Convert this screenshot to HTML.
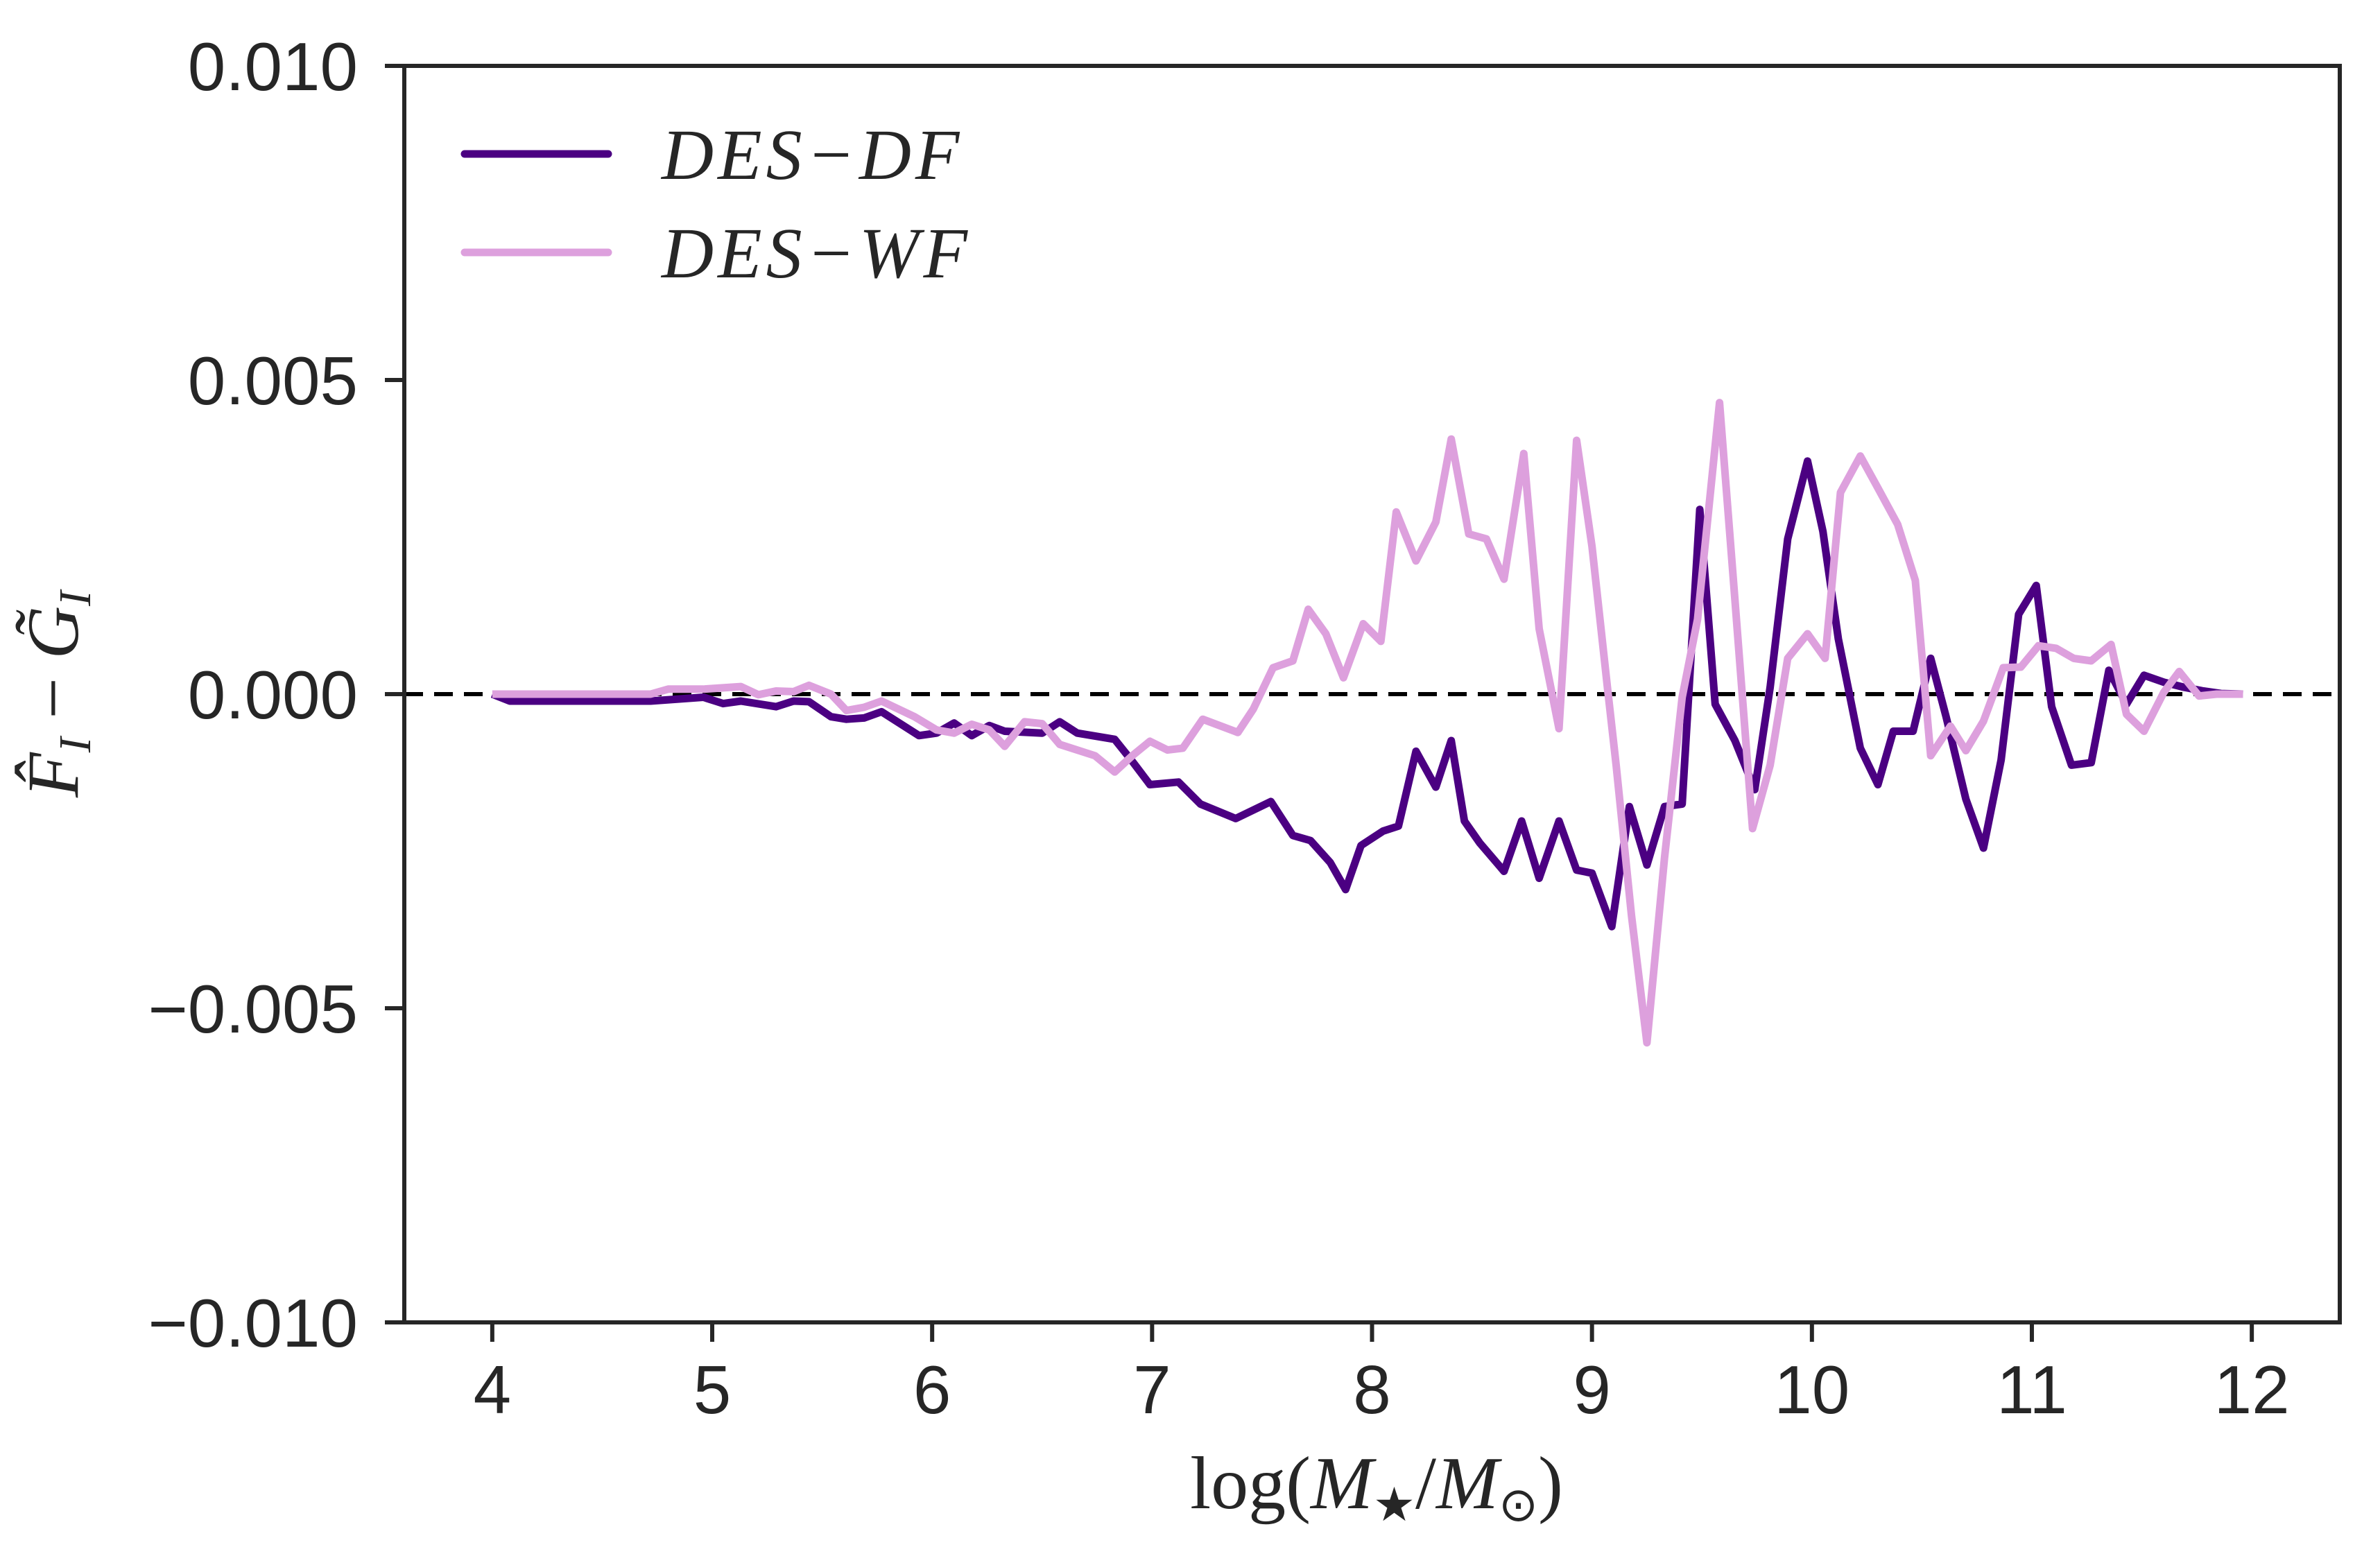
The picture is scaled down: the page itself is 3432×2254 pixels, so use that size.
<!DOCTYPE html>
<html><head><meta charset="utf-8"><style>
html,body{margin:0;padding:0;background:#fff;}
svg{display:block;}
</style></head><body>
<svg id="chart" width="3432" height="2254" viewBox="0 0 3432 2254" xmlns="http://www.w3.org/2000/svg">
<rect x="0" y="0" width="3432" height="2254" fill="#fff"/>
<g id="plot"></g>
<g id="axes"></g>
</svg>
<script>
const xTicks = [4,5,6,7,8,9,10,11,12];
const yTicks = [-0.010,-0.005,0.000,0.005,0.010];
const yTickLabels = ["\u22120.010","\u22120.005","0.000","0.005","0.010"];
const dfX = [4.0,4.08,4.72,4.96,5.05,5.13,5.29,5.37,5.44,5.54,5.61,5.69,5.77,5.94,6.02,6.10,6.18,6.26,6.33,6.50,6.58,6.66,6.83,6.91,6.99,7.12,7.22,7.38,7.54,7.64,7.72,7.81,7.88,7.95,8.05,8.12,8.20,8.29,8.36,8.42,8.49,8.60,8.68,8.76,8.85,8.93,9.00,9.09,9.17,9.25,9.33,9.41,9.49,9.56,9.65,9.74,9.81,9.89,9.98,10.05,10.12,10.22,10.30,10.37,10.46,10.54,10.61,10.70,10.78,10.86,10.94,11.02,11.09,11.18,11.27,11.35,11.43,11.51,11.60,11.69,11.78,11.86,11.96];
const dfY = [0,-0.11,-0.11,-0.05,-0.15,-0.11,-0.20,-0.11,-0.12,-0.36,-0.40,-0.38,-0.28,-0.66,-0.62,-0.46,-0.66,-0.50,-0.59,-0.62,-0.44,-0.62,-0.72,-1.07,-1.44,-1.40,-1.75,-1.98,-1.71,-2.25,-2.33,-2.68,-3.11,-2.41,-2.18,-2.10,-0.91,-1.48,-0.74,-2.02,-2.37,-2.82,-2.02,-2.93,-2.02,-2.80,-2.85,-3.70,-1.79,-2.72,-1.79,-1.75,2.94,-0.16,-0.74,-1.52,0.11,2.47,3.71,2.59,0.88,-0.86,-1.44,-0.59,-0.59,0.57,-0.36,-1.67,-2.45,-1.05,1.27,1.73,-0.20,-1.13,-1.09,0.38,-0.16,0.30,0.19,0.11,0.05,0.01,0];
const wfX = [4.0,4.72,4.80,4.96,5.13,5.21,5.29,5.37,5.44,5.54,5.61,5.69,5.77,5.92,6.02,6.10,6.18,6.26,6.33,6.42,6.50,6.58,6.74,6.83,6.91,6.99,7.07,7.14,7.23,7.39,7.46,7.55,7.64,7.71,7.79,7.87,7.96,8.04,8.11,8.20,8.29,8.36,8.44,8.52,8.60,8.69,8.76,8.85,8.93,9.00,9.07,9.11,9.18,9.25,9.33,9.41,9.48,9.58,9.65,9.73,9.81,9.89,9.98,10.06,10.13,10.22,10.30,10.39,10.47,10.54,10.63,10.70,10.78,10.87,10.95,11.03,11.11,11.19,11.27,11.36,11.43,11.51,11.60,11.67,11.76,11.84,11.96];
const wfY = [0,0,0.08,0.08,0.12,-0.01,0.05,0.04,0.14,0,-0.26,-0.21,-0.11,-0.36,-0.57,-0.62,-0.48,-0.57,-0.83,-0.44,-0.47,-0.80,-0.98,-1.24,-0.98,-0.75,-0.89,-0.86,-0.40,-0.61,-0.24,0.42,0.53,1.35,0.96,0.26,1.12,0.84,2.90,2.12,2.74,4.06,2.55,2.47,1.83,3.83,1.04,-0.55,4.04,2.35,0.11,-1.13,-3.53,-5.55,-2.60,-0.05,1.19,4.64,1.50,-2.14,-1.13,0.57,0.96,0.57,3.21,3.79,3.28,2.70,1.81,-0.98,-0.51,-0.90,-0.43,0.42,0.43,0.77,0.73,0.57,0.53,0.79,-0.32,-0.59,0.03,0.36,-0.03,0,0];
const yScaleFactor = 0.001; // series values are in units of 1e-3

const L=583,R=3374,T=95,B=1907;
const X0=3.6,X1=12.4,Y0=-0.010,Y1=0.010;
function sx(v){return L+(v-X0)/(X1-X0)*(R-L);}
function sy(v){return B-(v-Y0)/(Y1-Y0)*(B-T);}
const NS="http://www.w3.org/2000/svg";
function mk(tag,attrs,parent){const e=document.createElementNS(NS,tag);for(const k in attrs)e.setAttribute(k,attrs[k]);parent.appendChild(e);return e;}
const plot=document.getElementById('plot');
const axes=document.getElementById('axes');

const zl=mk('line',{x1:L,x2:R,y1:sy(0),y2:sy(0),stroke:'#000','stroke-width':6,'stroke-dasharray':'27 16'},plot);



function series(xs,ys,color,name){
  const d=xs.map((x,i)=>(i?'L':'M')+sx(x).toFixed(1)+','+sy(ys[i]*yScaleFactor).toFixed(1)).join(' ');
  const p=mk('path',{d:d,fill:'none',stroke:color,'stroke-width':11,'stroke-linejoin':'round','stroke-linecap':'butt'},plot);
  
  
}
series(dfX,dfY,'#4b0082','des-df-line');
series(wfX,wfY,'#dda0dd','des-wf-line');

const fr=mk('rect',{x:L,y:T,width:R-L,height:B-T,fill:'none',stroke:'#262626','stroke-width':6},axes);



xTicks.forEach(v=>{
  const t=mk('line',{x1:sx(v),x2:sx(v),y1:B,y2:B+28,stroke:'#262626','stroke-width':6},axes);
  
  
  const tx=mk('text',{x:sx(v),y:2038,'text-anchor':'middle','font-family':'Liberation Sans, sans-serif','font-size':98,fill:'#262626'},axes);
  tx.textContent=String(v);
  
  
});
yTicks.forEach((v,i)=>{
  const t=mk('line',{x1:L-28,x2:L,y1:sy(v),y2:sy(v),stroke:'#262626','stroke-width':6},axes);
  
  
  const tx=mk('text',{x:516,y:sy(v)+35,'text-anchor':'end','font-family':'Liberation Sans, sans-serif','font-size':98,fill:'#262626'},axes);
  tx.textContent=yTickLabels[i];
  
  
});
</script>
<svg style="position:absolute;left:0;top:0" width="3432" height="2254">
<text x="1985" y="2175" text-anchor="middle" font-family="Liberation Serif, serif" font-size="108" fill="#262626">log(<tspan font-style="italic">M</tspan><tspan font-size="68" dy="18">★</tspan><tspan dy="-18">/</tspan><tspan font-style="italic">M</tspan><tspan font-size="68" dy="18">⊙</tspan><tspan dy="-18">)</tspan></text>
<text transform="translate(112,1001) rotate(-90)" text-anchor="middle" font-family="Liberation Serif, serif" font-size="106" font-style="italic" fill="#262626">F̂<tspan font-size="66" dy="18">I</tspan><tspan dy="-18" font-style="normal"> − </tspan>G̃<tspan font-size="66" dy="18">I</tspan></text>
<g>
<line x1="670" y1="222" x2="877" y2="222" stroke="#4b0082" stroke-width="11" stroke-linecap="round"/>
<text x="954" y="258" font-family="Liberation Serif, serif" font-style="italic" font-size="104" letter-spacing="6" fill="#262626">DES−DF</text>
<line x1="670" y1="364" x2="877" y2="364" stroke="#dda0dd" stroke-width="11" stroke-linecap="round"/>
<text x="954" y="400" font-family="Liberation Serif, serif" font-style="italic" font-size="104" letter-spacing="6" fill="#262626">DES−WF</text>
</g>
</svg>
</body></html>
